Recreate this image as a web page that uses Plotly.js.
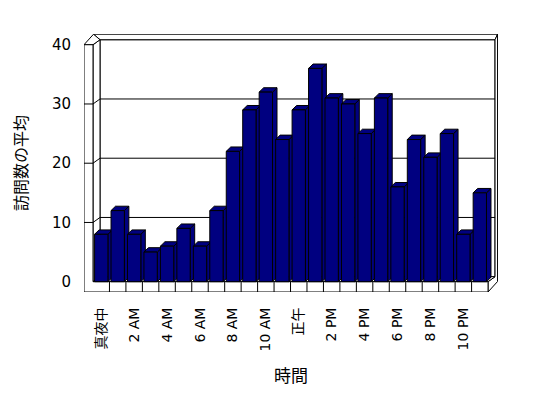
<!DOCTYPE html>
<html>
<head>
<meta charset="utf-8">
<script src="https://cdn.plot.ly/plotly-3.0.1.min.js"></script>
<style>html,body{margin:0;padding:0;background:#fff;}#chart{width:548px;height:398px;}</style>
</head>
<body>
<div id="chart"></div>
<script>
// ---- data ----
const hourLabels = ['真夜中','1 AM','2 AM','3 AM','4 AM','5 AM','6 AM','7 AM','8 AM','9 AM','10 AM','11 AM',
                    '正午','1 PM','2 PM','3 PM','4 PM','5 PM','6 PM','7 PM','8 PM','9 PM','10 PM','11 PM'];
const visits = [8,12,8,5,6,9,6,12,22,29,32,24,29,36,31,30,25,31,16,24,21,25,8,15];
const yTicks = [0,10,20,30,40];
const xTitle = '時間';
const yTitle = '訪問数の平均';

// ---- layout geometry ----
const W = 548, H = 398;
const margin = {l:84, r:50, t:34, b:106, pad:0};
const xRange = [-1.047, 24.105];
const yRange = [-1.738, 41.81];
const ux = (W - margin.l - margin.r) / (xRange[1] - xRange[0]);
const uy = (H - margin.t - margin.b) / (yRange[1] - yRange[0]);
const dx = p => p / ux, dy = p => p / uy;

const idx = hourLabels.map((_, i) => i);
const xL = idx[0] - 0.5, xR = idx[idx.length - 1] + 0.5;
const yB = yTicks[0], yT = yTicks[yTicks.length - 1];
const wallT = dx(9), floorT = dy(10.3);
const inO = {x: dx(7), y: dy(5)};
const outO = {x: dx(9.5), y: dy(10.5)};
const barW = 0.81;
const bO = {x: dx(4.5), y: dy(4.4)};
const navy = '#000080';

const poly = pts => 'M' + pts.map(p => p[0] + ',' + p[1]).join('L') + 'Z';
const line = pts => 'M' + pts.map(p => p[0] + ',' + p[1]).join('L');
const shapes = [];
const addPath = (path, fill) => shapes.push({type:'path', xref:'x', yref:'y', layer:'below', path,
  fillcolor: fill || 'rgba(0,0,0,0)', line:{color:'#000', width:1}});

// back wall face
addPath(poly([[xL+inO.x, yB+inO.y],[xR+inO.x, yB+inO.y],[xR+inO.x, yT+inO.y],[xL+inO.x, yT+inO.y]]), '#fff');
// back wall top
addPath(poly([[xL-wallT+outO.x, yT+outO.y],[xR+outO.x, yT+outO.y],[xR+inO.x, yT+inO.y],[xL+inO.x, yT+inO.y]]), '#fff');
// right side (back wall end + floor side)
addPath(poly([[xR, yB-floorT],[xR+outO.x, yB-floorT+outO.y],[xR+outO.x, yT+outO.y],[xR+inO.x, yT+inO.y],[xR+inO.x, yB+inO.y],[xR, yB]]), '#fff');
// left wall inner face
addPath(poly([[xL, yB],[xL, yT],[xL+inO.x, yT+inO.y],[xL+inO.x, yB+inO.y]]), '#fff');
// left wall top
addPath(poly([[xL-wallT, yT],[xL, yT],[xL+inO.x, yT+inO.y],[xL-wallT+outO.x, yT+outO.y]]), '#fff');
// floor top
addPath(poly([[xL, yB],[xR, yB],[xR+inO.x, yB+inO.y],[xL+inO.x, yB+inO.y]]), '#fff');
// left wall front + floor front
addPath(poly([[xL-wallT, yB-floorT],[xR, yB-floorT],[xR, yB],[xL, yB],[xL, yT],[xL-wallT, yT]]), '#fff');
// gridlines
yTicks.filter(v => v > yB && v < yT).forEach(v => {
  addPath(line([[xL-wallT, v],[xL, v],[xL+inO.x, v+inO.y],[xR+inO.x, v+inO.y]]));
});
// category dividers on floor front
idx.slice(1).forEach(i => addPath(line([[i-0.5, yB-floorT],[i-0.5, yB]])));
// bar sides & tops
visits.forEach((v, i) => {
  const a = i - barW/2, b = i + barW/2;
  addPath(poly([[b, yB],[b+bO.x, yB+bO.y],[b+bO.x, v+bO.y],[b, v]]), navy);
  addPath(poly([[a, v],[b, v],[b+bO.x, v+bO.y],[a+bO.x, v+bO.y]]), navy);
});

const font = 'DejaVu Sans, Noto Sans CJK JP, sans-serif';
const trace = {
  type:'bar', x: idx, y: visits, width: barW,
  marker:{color: navy, line:{color:'#000', width:1}},
  hoverinfo:'skip'
};
const evenIdx = idx.filter(i => i % 2 === 0);
const layout = {
  width: W, height: H, margin,
  paper_bgcolor:'#fff', plot_bgcolor:'rgba(0,0,0,0)',
  showlegend:false,
  font:{family: font, color:'#000', size:14},
  xaxis:{range: xRange, showgrid:false, zeroline:false, showline:false,
    tickmode:'array', tickvals: evenIdx, ticktext: evenIdx.map(i => hourLabels[i]),
    tickangle:-90, ticks:'outside', ticklen:9, tickcolor:'rgba(0,0,0,0)',
    tickfont:{size:14, family: font, color:'#000'},
    title:{text: xTitle, font:{size:17, family: font, color:'#000'}, standoff:19}},
  yaxis:{range: yRange, showgrid:false, zeroline:false, showline:false,
    tickmode:'array', tickvals: yTicks, ticks:'outside', ticklen:9, tickcolor:'rgba(0,0,0,0)',
    tickfont:{size:15, family: font, color:'#000'},
    title:{text: yTitle, font:{size:16, family: font, color:'#000'}, standoff:20}},
  shapes
};
Plotly.newPlot('chart', [trace], layout, {staticPlot:true, displayModeBar:false});
</script>
</body>
</html>
